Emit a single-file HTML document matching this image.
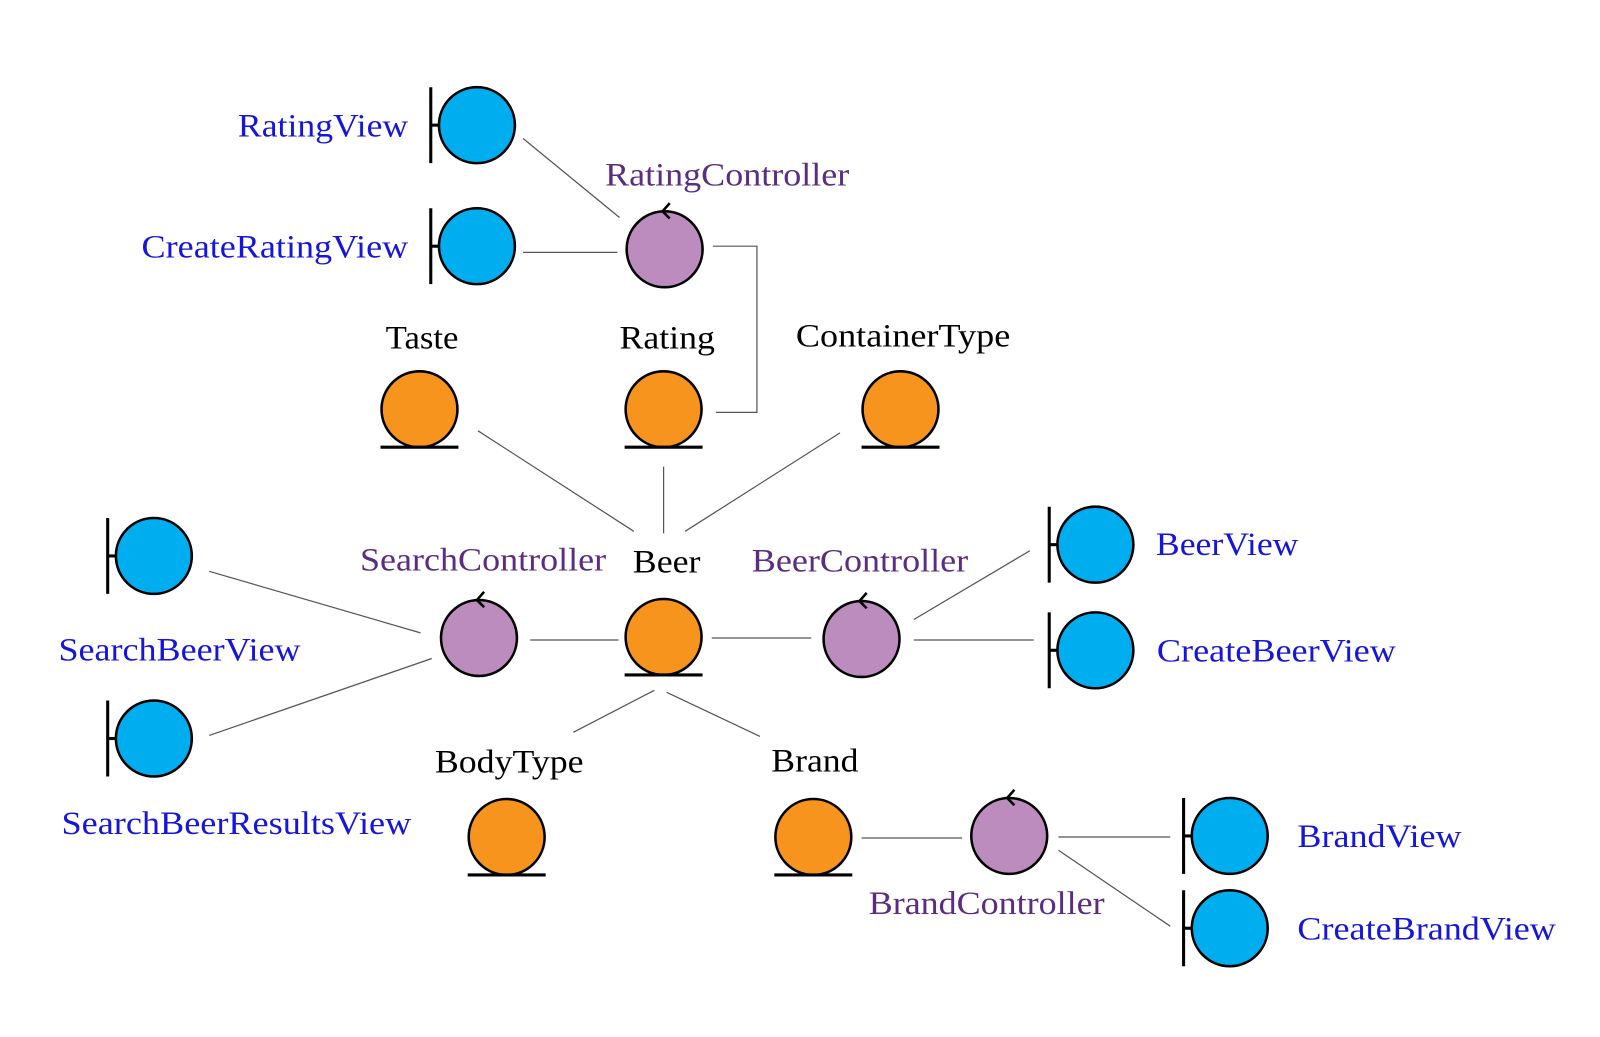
<!DOCTYPE html>
<html><head><meta charset="utf-8"><style>
html,body{margin:0;padding:0;background:#fff;}
svg{display:block}
text{font-family:"Liberation Serif",serif;font-size:32px;}
.b{fill:#1515dd}.p{fill:#5b2c83}.k{fill:#000}
.ln{stroke:#555;stroke-width:1.2;fill:none}
</style></head><body>
<svg width="1600" height="1037" viewBox="0 0 1560 1011" xmlns="http://www.w3.org/2000/svg">
<defs>
<g id="bnd"><line x1="-45" y1="-37" x2="-45" y2="37" stroke="#000" stroke-width="3"/><line x1="-45" y1="0" x2="-37" y2="0" stroke="#000" stroke-width="3"/><circle r="37" fill="#00aeef" stroke="#000" stroke-width="2.5"/></g>
<g id="ctl"><circle r="37" fill="#bd8cbf" stroke="#000" stroke-width="2.5"/><polyline points="5,-45 -2,-37 5,-30" fill="none" stroke="#000" stroke-width="2.5"/></g>
<g id="ent"><circle r="37" fill="#f7941d" stroke="#000" stroke-width="2.5"/><line x1="-38" y1="37" x2="38" y2="37" stroke="#000" stroke-width="3"/></g>
</defs>
<line class="ln" x1="510" y1="135" x2="604" y2="212"/>
<line class="ln" x1="510" y1="246" x2="602" y2="246"/>
<polyline class="ln" points="695,240 738,240 738,402 698,402"/>
<line class="ln" x1="466" y1="420" x2="618" y2="518"/>
<line class="ln" x1="647" y1="455" x2="647" y2="520"/>
<line class="ln" x1="819" y1="422" x2="668" y2="518"/>
<line class="ln" x1="204" y1="557" x2="410" y2="617"/>
<line class="ln" x1="204" y1="717" x2="421" y2="642"/>
<line class="ln" x1="517" y1="624" x2="603" y2="624"/>
<line class="ln" x1="694" y1="622" x2="791" y2="622"/>
<line class="ln" x1="891" y1="604" x2="1004" y2="537"/>
<line class="ln" x1="891" y1="624" x2="1008" y2="624"/>
<line class="ln" x1="638" y1="673" x2="559" y2="714"/>
<line class="ln" x1="650" y1="675" x2="741" y2="718"/>
<line class="ln" x1="840" y1="817" x2="938" y2="817"/>
<line class="ln" x1="1032" y1="816" x2="1141" y2="816"/>
<line class="ln" x1="1032" y1="829" x2="1141" y2="903"/>
<use href="#bnd" x="465" y="122"/>
<use href="#bnd" x="465" y="240"/>
<use href="#bnd" x="150" y="542"/>
<use href="#bnd" x="150" y="720"/>
<use href="#bnd" x="1068" y="531"/>
<use href="#bnd" x="1068" y="634"/>
<use href="#bnd" x="1199" y="815"/>
<use href="#bnd" x="1199" y="905"/>
<use href="#ctl" x="648" y="243"/>
<use href="#ctl" x="467" y="622"/>
<use href="#ctl" x="840" y="623"/>
<use href="#ctl" x="984" y="815"/>
<use href="#ent" x="409" y="399"/>
<use href="#ent" x="647" y="399"/>
<use href="#ent" x="878" y="399"/>
<use href="#ent" x="647" y="621"/>
<use href="#ent" x="494" y="816"/>
<use href="#ent" x="793" y="816"/>
<text class="b" x="232" y="133" textLength="166" lengthAdjust="spacingAndGlyphs">RatingView</text>
<text class="b" x="138" y="251" textLength="260" lengthAdjust="spacingAndGlyphs">CreateRatingView</text>
<text class="p" x="590" y="181" textLength="238" lengthAdjust="spacingAndGlyphs">RatingController</text>
<text class="k" x="376" y="340" textLength="71" lengthAdjust="spacingAndGlyphs">Taste</text>
<text class="k" x="604" y="340" textLength="93" lengthAdjust="spacingAndGlyphs">Rating</text>
<text class="k" x="776" y="338" textLength="209" lengthAdjust="spacingAndGlyphs">ContainerType</text>
<text class="p" x="351" y="556" textLength="240" lengthAdjust="spacingAndGlyphs">SearchController</text>
<text class="k" x="617" y="558" textLength="66" lengthAdjust="spacingAndGlyphs">Beer</text>
<text class="p" x="733" y="557" textLength="211" lengthAdjust="spacingAndGlyphs">BeerController</text>
<text class="b" x="1127" y="541" textLength="139" lengthAdjust="spacingAndGlyphs">BeerView</text>
<text class="b" x="1128" y="645" textLength="233" lengthAdjust="spacingAndGlyphs">CreateBeerView</text>
<text class="b" x="57" y="644" textLength="236" lengthAdjust="spacingAndGlyphs">SearchBeerView</text>
<text class="b" x="60" y="813" textLength="341" lengthAdjust="spacingAndGlyphs">SearchBeerResultsView</text>
<text class="k" x="424" y="753" textLength="145" lengthAdjust="spacingAndGlyphs">BodyType</text>
<text class="k" x="752" y="752" textLength="85" lengthAdjust="spacingAndGlyphs">Brand</text>
<text class="p" x="847" y="891" textLength="230" lengthAdjust="spacingAndGlyphs">BrandController</text>
<text class="b" x="1265" y="826" textLength="160" lengthAdjust="spacingAndGlyphs">BrandView</text>
<text class="b" x="1265" y="916" textLength="252" lengthAdjust="spacingAndGlyphs">CreateBrandView</text>
</svg>
</body></html>
